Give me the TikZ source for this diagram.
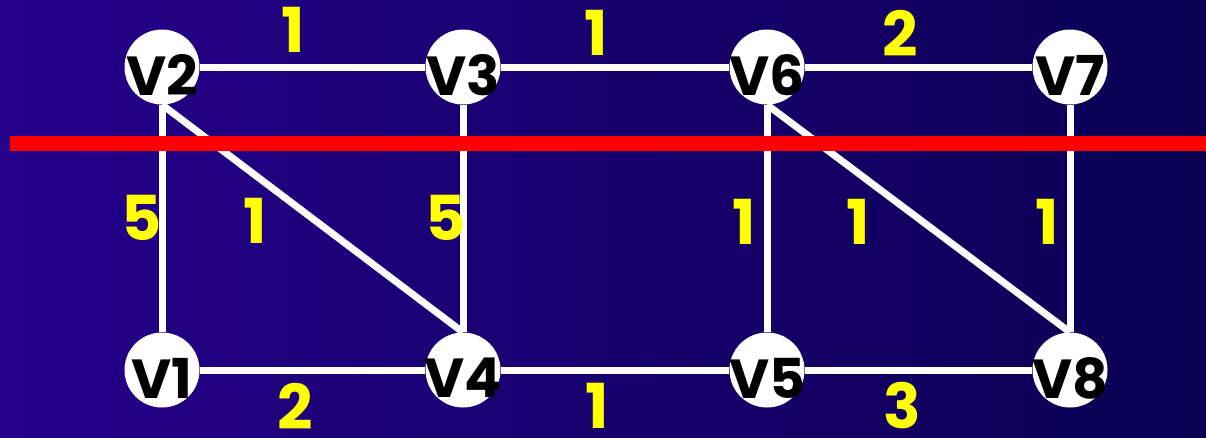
\documentclass[tikz,border=0pt]{standalone}
\usepackage{fontspec}
\setsansfont{Poppins}
\usetikzlibrary{positioning}
\definecolor{bgLeft}{HTML}{25008A}
\definecolor{bgRight}{HTML}{0A0052}
\definecolor{wYellow}{HTML}{FFFF00}
\tikzset{
  vtx/.style={circle, fill=white, minimum size=75pt, inner sep=0pt, label={[vtxtext]center:#1}},
  vtxtext/.style={font=\sffamily\bfseries\fontsize{55}{55}\selectfont, text=black, inner sep=0pt, yshift=-8pt},
  wedge/.style={draw=white, line width=7pt},
  wlab/.style={font=\sffamily\bfseries\fontsize{62}{62}\selectfont, text=wYellow, inner sep=0pt},
  cutline/.style={draw=red, line width=15pt}
}

\begin{document}
\begin{tikzpicture}[x=1pt, y=-1pt, node distance=303pt, on grid]
\useasboundingbox (0,0) rectangle (1206,437);
\shade[left color=bgLeft, right color=bgRight] (0,0) rectangle (1206,437);
% vertices
\node[vtx=V2] (v2) at (162,67) {};
\node[vtx=V3, right=301pt of v2] (v3) {};
\node[vtx=V6, right=304pt of v3] (v6) {};
\node[vtx=V7, right=303pt of v6] (v7) {};
\node[vtx=V1, below=303pt of v2] (v1) {};
\node[vtx=V4, below=303pt of v3] (v4) {};
\node[vtx=V5, below=303pt of v6] (v5) {};
\node[vtx=V8, below=303pt of v7] (v8) {};
% edges
\draw[wedge] (v2) -- (v3);
\draw[wedge] (v3) -- (v6);
\draw[wedge] (v6) -- (v7);
\draw[wedge] (v2) -- (v1);
\draw[wedge] (v2.south) -- (v4.north);
\draw[wedge] (v3) -- (v4);
\draw[wedge] (v6) -- (v5);
\draw[wedge] (v6.south) -- (v8.north);
\draw[wedge] (v7) -- (v8);
\draw[wedge] (v1) -- (v4);
\draw[wedge] (v4) -- (v5);
\draw[wedge] (v5) -- (v8);
% weights
\node[wlab] (w23) at (293,30) {1};
\node[wlab] (w36) at (596,33) {1};
\node[wlab] (w67) at (900,33) {2};
\node[wlab] (w21) at (142,218) {5};
\node[wlab] (w24) at (255,221) {1};
\node[wlab] (w34) at (446,218) {5};
\node[wlab] (w65) at (744,222) {1};
\node[wlab] (w68) at (858,222) {1};
\node[wlab] (w78) at (1047,222) {1};
\node[wlab] (w14) at (295,406) {2};
\node[wlab] (w45) at (597,406) {1};
\node[wlab] (w58) at (902,406) {3};
% cut
\coordinate (cutL) at (10,143);
\coordinate (cutR) at (1206,143);
\draw[cutline] (cutL) -- (cutR);
\end{tikzpicture}
\end{document}
